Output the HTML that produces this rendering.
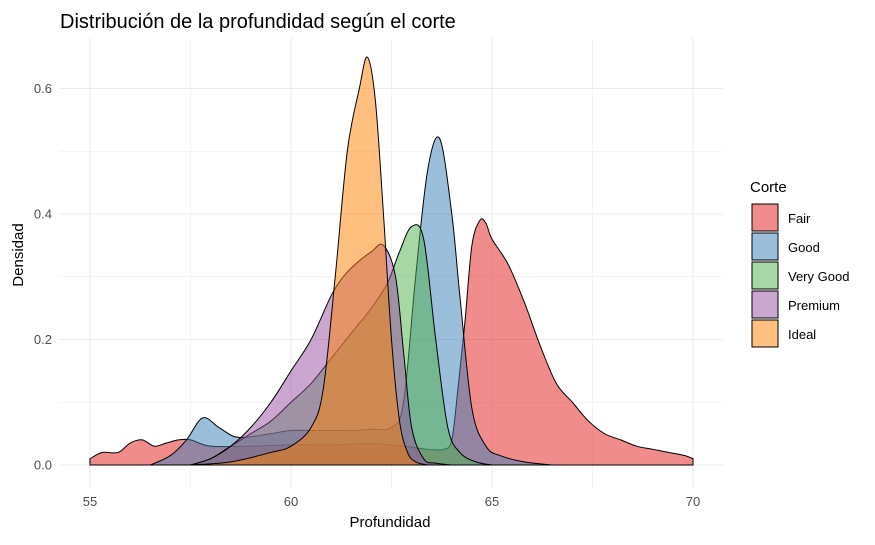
<!DOCTYPE html>
<html><head><meta charset="utf-8"><style>
body{margin:0;background:#fff;font-family:"Liberation Sans",sans-serif}
</style></head><body>
<svg id="c" width="875" height="540" xmlns="http://www.w3.org/2000/svg">
<text x="60" y="28" font-size="20" fill="#000">Distribución de la profundidad según el corte</text>
<g id="grid"></g><g id="series"></g><g id="axes"></g>
<text x="390" y="527" font-size="15" text-anchor="middle">Profundidad</text>
<text transform="translate(23,255) rotate(-90)" font-size="15" text-anchor="middle">Densidad</text>
<g id="legend"></g>
</svg>
<script>
const categories=["Fair","Good","Very Good","Premium","Ideal"];
const colors=["#E41A1C","#377EB8","#4DAF4A","#984EA3","#FF7F00"];
const xTicks=[55,60,65,70];
const yTicks=[0,0.2,0.4,0.6];
const fairX=[55,55.3,55.7,56,56.3,56.6,56.9,57.2,57.5,58,59,60,61,62,62.8,63.4,63.8,64,64.15,64.33,64.5,64.7,64.85,65,65.4,65.8,66.2,66.6,67,67.4,67.8,68.2,68.6,69,69.4,69.8,70];
const fairY=[0.01,0.02,0.02,0.035,0.04,0.03,0.035,0.04,0.04,0.03,0.03,0.032,0.032,0.034,0.03,0.025,0.025,0.04,0.12,0.23,0.35,0.39,0.385,0.36,0.32,0.26,0.19,0.13,0.1,0.07,0.05,0.04,0.03,0.025,0.02,0.015,0.01];
const goodX=[56.5,57,57.4,57.8,58.2,58.6,59,59.5,60,60.5,61,61.5,62,62.5,62.8,63.1,63.4,63.7,64,64.2,64.5,64.85,65.2,65.8,66.5];
const goodY=[0,0.015,0.04,0.075,0.06,0.045,0.045,0.05,0.055,0.055,0.055,0.055,0.057,0.06,0.1,0.3,0.47,0.52,0.4,0.27,0.09,0.03,0.015,0.005,0];
const vgX=[57.5,58,58.5,59,59.5,60,60.5,61,61.5,62,62.4,62.7,63,63.3,63.6,63.9,64.2,64.6,65];
const vgY=[0,0.01,0.03,0.05,0.07,0.1,0.13,0.17,0.21,0.25,0.29,0.34,0.38,0.36,0.2,0.06,0.02,0.005,0];
const premX=[57.5,58,58.5,59,59.5,60,60.5,61,61.3,61.6,62,62.3,62.6,62.8,63,63.3,63.6,64];
const premY=[0,0.01,0.03,0.06,0.1,0.15,0.2,0.27,0.3,0.32,0.34,0.35,0.3,0.18,0.06,0.01,0.003,0];
const idealX=[57.5,58.5,59.5,60,60.5,60.8,61.1,61.4,61.7,61.9,62.1,62.3,62.5,62.7,62.9,63.1,63.4];
const idealY=[0,0.005,0.02,0.03,0.06,0.12,0.3,0.5,0.6,0.65,0.58,0.4,0.2,0.07,0.02,0.005,0];
const seriesX=[fairX,goodX,vgX,premX,idealX];
const seriesY=[fairY,goodY,vgY,premY,idealY];
const X0=60,X1=723,Y0=38,Y1=488;
const sx=v=>90+(v-55)*(693-90)/15;
const sy=v=>465-v*627.5;
const NS="http://www.w3.org/2000/svg";
function mk(t,a,p){const e=document.createElementNS(NS,t);for(const k in a)e.setAttribute(k,a[k]);p.appendChild(e);return e;}
const grid=document.getElementById('grid');
for(let v=52.5;v<=72.5;v+=2.5){const x=sx(v);if(x<X0||x>X1)continue;
 const l=mk('line',{x1:x,x2:x,y1:Y0,y2:Y1,stroke:'#ebebeb','stroke-width':v%5===0?1.1:0.6},grid);
 
 }
for(let v=0;v<=0.71;v+=0.1){const y=sy(v);if(y<Y0)continue;
 const l=mk('line',{x1:X0,x2:X1,y1:y,y2:y,stroke:'#ebebeb','stroke-width':Math.round(v*10)%2===0?1.1:0.6},grid);
 
 }
const axes=document.getElementById('axes');
xTicks.forEach(v=>{const t=mk('text',{x:sx(v),y:506,'font-size':13,fill:'#4d4d4d','text-anchor':'middle'},axes);t.textContent=v;
 
 });
yTicks.forEach(v=>{const t=mk('text',{x:52,y:sy(v)+4.5,'font-size':13,fill:'#4d4d4d','text-anchor':'end'},axes);t.textContent=v.toFixed(1);
 
 });
function path(xs,ys){const p=xs.map((x,i)=>[sx(x),sy(ys[i])]);
 let d=`M${p[0][0]},${sy(0)}L${p[0][0]},${p[0][1]}`;
 for(let i=0;i<p.length-1;i++){const a=p[Math.max(i-1,0)],b=p[i],c=p[i+1],e=p[Math.min(i+2,p.length-1)];
  const c1=[b[0]+(c[0]-a[0])/6,b[1]+(c[1]-a[1])/6],c2=[c[0]-(e[0]-b[0])/6,c[1]-(e[1]-b[1])/6];
  c1[1]=Math.min(c1[1],sy(0));c2[1]=Math.min(c2[1],sy(0));
  d+=`C${c1[0]},${c1[1]} ${c2[0]},${c2[1]} ${c[0]},${c[1]}`;}
 return d+`L${p[p.length-1][0]},${sy(0)}Z`;}
const sg=document.getElementById('series');
categories.forEach((c,i)=>{const e=mk('path',{d:path(seriesX[i],seriesY[i]),fill:colors[i],'fill-opacity':0.5,stroke:'#000','stroke-width':1},sg);
 
 });
const lg=document.getElementById('legend');
const lt=mk('text',{x:750,y:192,'font-size':15},lg);lt.textContent='Corte';


categories.forEach((c,i)=>{const y=204+i*29;
 const r=mk('rect',{x:752,y:y,width:26,height:27,fill:colors[i],'fill-opacity':0.5,stroke:'#000','stroke-width':1},lg);
 
 
 const t=mk('text',{x:788,y:y+19,'font-size':13},lg);t.textContent=c;
 
 });
</script>
</body></html>
